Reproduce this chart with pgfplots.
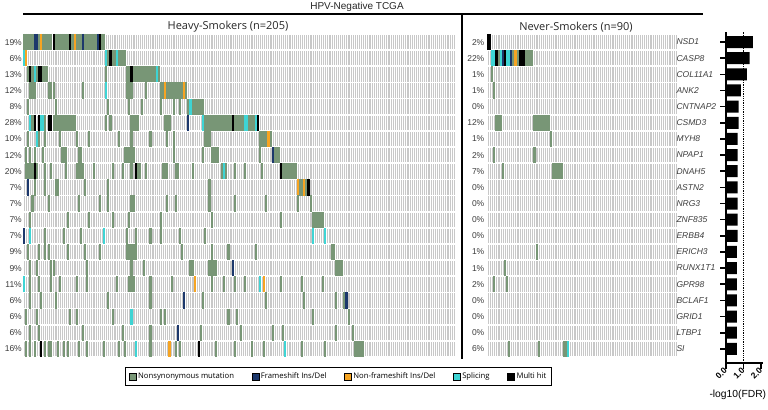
\documentclass[border=0pt]{standalone}
\usepackage{pgfplots}
\pgfplotsset{compat=1.18}
\usepackage{fontspec}
\setmainfont{Liberation Sans}
\newfontfamily\opensans{Open Sans}
\definecolor{cN}{RGB}{120,150,118}
\definecolor{cF}{RGB}{28,56,108}
\definecolor{cO}{RGB}{246,164,34}
\definecolor{cS}{RGB}{62,212,212}
\definecolor{cM}{RGB}{0,0,0}
\definecolor{cBG}{RGB}{200,200,200}
\definecolor{txt}{RGB}{60,60,60}
\pgfplotsset{
  mut/.style={only marks, mark=|, mark size=8.1bp, forget plot, mark options={line width=2.1bp, solid}},
  mN/.style={mut, color=cN}, mF/.style={mut, color=cF}, mO/.style={mut, color=cO},
  mS/.style={mut, color=cS}, mM/.style={mut, color=cM},
  onco/.style={scale only axis, height=323bp, ymin=0.5, ymax=20.5, y dir=reverse,
    axis line style={draw=none}, axis on top, axis background/.style={fill=cBG},
    xmajorgrids, major grid style={white, line width=0.25bp}, major tick length=0pt,
    xticklabels={}, ytick={1,...,20},
    extra y ticks={0.5,1.5,...,20.5}, extra y tick labels={},
    extra y tick style={grid=major, major grid style={white, line width=1.7bp}},
    yticklabel style={font=\fontsize{8.5bp}{10bp}\selectfont, text=txt, inner sep=1bp}},
}
\newcommand{\mrow}[3]{\addplot[#1] table[row sep=\\, y expr=#2]{x\\#3\\};}
\begin{document}
\begin{tikzpicture}
\useasboundingbox (0,0) rectangle (768bp,-410bp);
% Heavy smokers
\begin{axis}[onco, at={(23bp,-34bp)}, anchor=north west, width=432bp,
  xmin=-0.5, xmax=204.5, xtick={-0.5,0.5,...,204.5},
  yticklabels={19\%,6\%,13\%,12\%,8\%,28\%,10\%,12\%,20\%,7\%,7\%,7\%,7\%,9\%,9\%,11\%,6\%,6\%,6\%,16\%},
  legend columns=5, legend cell align=left,
  legend style={at={(axis description cs:0.7303,-0.0604)}, anchor=center, draw=black, line width=1.3bp,
    font=\opensans\fontsize{7.7bp}{9bp}\selectfont, inner sep=3bp,
    /tikz/every even column/.append style={column sep=15.5bp}}]
\mrow{mN}{1}{0\\1\\2\\3\\4\\7\\9\\10\\11\\12\\13\\15\\16\\17\\18\\19\\20\\21\\23\\25\\26\\27\\29\\30\\31\\32\\33\\34\\37\\38}
\mrow{mF}{1}{5\\6\\28\\35}
\mrow{mO}{1}{8\\24}
\mrow{mM}{1}{14\\22\\36}
\mrow{mN}{2}{40\\42\\43\\45\\46\\47\\48}
\mrow{mS}{2}{0\\39\\44}
\mrow{mO}{2}{1}
\mrow{mM}{2}{41}
\mrow{mN}{3}{2\\4\\6\\9\\10\\11\\39\\49\\50\\52\\53\\54\\55\\56\\57\\58\\59\\60\\61\\62\\64}
\mrow{mM}{3}{3\\7\\8\\51}
\mrow{mS}{3}{5\\63}
\mrow{mN}{4}{3\\4\\5\\12\\13\\14\\28\\49\\50\\51\\58\\65\\66\\68\\69\\70\\71\\72\\73\\74\\75\\77}
\mrow{mS}{4}{39}
\mrow{mO}{4}{67\\76}
\mrow{mN}{5}{2\\15\\40\\50\\56\\65\\71\\74\\78\\80\\81\\82\\83\\84\\85}
\mrow{mS}{5}{79}
\mrow{mN}{6}{4\\10\\14\\15\\16\\17\\18\\19\\20\\21\\22\\23\\24\\39\\41\\51\\52\\53\\54\\67\\68\\69\\86\\87\\88\\89\\90\\91\\92\\93\\94\\95\\96\\97\\98\\100\\101\\102\\103\\104\\107\\108\\109}
\mrow{mS}{6}{3\\8\\9\\85\\105\\106\\110}
\mrow{mM}{6}{5\\7\\12\\13\\99\\111}
\mrow{mF}{6}{78}
\mrow{mN}{7}{2\\7\\10\\17\\25\\31\\45\\51\\60\\68\\71\\86\\87\\88\\112\\113\\114\\115\\117}
\mrow{mS}{7}{6}
\mrow{mO}{7}{116}
\mrow{mN}{8}{1\\3\\5\\9\\18\\19\\20\\26\\27\\48\\49\\50\\51\\52\\71\\85\\89\\90\\91\\92\\112\\119\\120\\121}
\mrow{mF}{8}{118}
\mrow{mN}{9}{1\\2\\3\\4\\6\\10\\13\\20\\25\\26\\27\\28\\33\\42\\47\\51\\54\\55\\58\\66\\67\\68\\72\\73\\80\\94\\96\\100\\105\\113\\123\\124\\125\\126\\127\\128\\129}
\mrow{mM}{9}{5\\53\\122}
\mrow{mS}{9}{95}
\mrow{mN}{10}{5\\10\\15\\16\\29\\40\\88\\131\\132\\134}
\mrow{mF}{10}{2}
\mrow{mO}{10}{130\\133}
\mrow{mM}{10}{135}
\mrow{mN}{11}{4\\12\\26\\36\\40\\51\\52\\68\\72\\88\\100\\115\\130\\136}
\mrow{mN}{12}{3\\21\\31\\42\\50\\65\\89\\122\\137\\138\\139\\140\\141\\142}
\mrow{mN}{13}{10\\19\\27\\49\\53\\60\\65\\74\\86}
\mrow{mF}{13}{0}
\mrow{mS}{13}{3\\38\\137\\143}
\mrow{mN}{14}{2\\7\\10\\12\\21\\29\\36\\49\\50\\51\\52\\53\\75\\89\\97\\110\\146\\147}
\mrow{mN}{15}{3\\6\\13\\14\\30\\51\\57\\79\\80\\88\\89\\90\\91\\148\\149\\150\\151}
\mrow{mF}{15}{99}
\mrow{mN}{16}{3\\7\\13\\17\\25\\30\\44\\50\\51\\52\\60\\70\\89\\95\\100\\105\\122\\132\\142}
\mrow{mS}{16}{0\\112}
\mrow{mO}{16}{81\\114}
\mrow{mN}{17}{3\\8\\15\\40\\60\\85\\115\\133\\148\\152}
\mrow{mF}{17}{76\\153}
\mrow{mN}{18}{1\\6\\22\\25\\42\\65\\67\\97\\101\\137\\154}
\mrow{mS}{18}{51}
\mrow{mN}{19}{3\\7\\28\\47\\60\\84\\103\\118\\123\\148\\156}
\mrow{mF}{19}{73}
\mrow{mN}{20}{1\\3\\5\\10\\12\\13\\16\\19\\21\\26\\30\\38\\45\\48\\60\\72\\74\\91\\100\\108\\114\\132\\143\\157\\158\\159\\160\\161}
\mrow{mM}{20}{8\\83}
\mrow{mS}{20}{53\\124}
\mrow{mO}{20}{69}
\addlegendimage{legend image code/.code={\draw[fill=cN,draw=black,line width=0.4bp] (0bp,-3.5bp) rectangle (7bp,3.5bp);}}
\addlegendentry{Nonsynonymous mutation}
\addlegendimage{legend image code/.code={\draw[fill=cF,draw=black,line width=0.4bp] (0bp,-3.5bp) rectangle (7bp,3.5bp);}}
\addlegendentry{Frameshift Ins/Del}
\addlegendimage{legend image code/.code={\draw[fill=cO,draw=black,line width=0.4bp] (0bp,-3.5bp) rectangle (7bp,3.5bp);}}
\addlegendentry{Non-frameshift Ins/Del}
\addlegendimage{legend image code/.code={\draw[fill=cS,draw=black,line width=0.4bp] (0bp,-3.5bp) rectangle (7bp,3.5bp);}}
\addlegendentry{Splicing}
\addlegendimage{legend image code/.code={\draw[fill=cM,draw=black,line width=0.4bp] (0bp,-3.5bp) rectangle (7bp,3.5bp);}}
\addlegendentry{Multi hit}
\end{axis}
% Never smokers
\begin{axis}[onco, at={(487bp,-34bp)}, anchor=north west, width=190bp,
  xmin=-0.5, xmax=89.5, xtick={-0.5,0.5,...,89.5},
  yticklabels={2\%,22\%,1\%,1\%,0\%,12\%,1\%,2\%,7\%,0\%,0\%,0\%,0\%,1\%,1\%,2\%,0\%,0\%,0\%,6\%},
  yticklabel style={inner sep=2.5bp}]
\mrow{mM}{1}{0\\1}
\mrow{mS}{2}{2\\3\\6\\9\\10}
\mrow{mM}{2}{4\\8\\15\\16\\17}
\mrow{mF}{2}{7\\11}
\mrow{mO}{2}{13}
\mrow{mN}{2}{5\\12\\14\\18\\19\\20\\21}
\mrow{mN}{3}{2}
\mrow{mN}{4}{3}
\mrow{mN}{6}{4\\5\\6\\22\\23\\24\\25\\26\\27\\28\\29}
\mrow{mN}{7}{30}
\mrow{mN}{8}{3\\22}
\mrow{mN}{9}{7\\31\\32\\33\\34\\35}
\mrow{mN}{14}{23}
\mrow{mN}{15}{8}
\mrow{mN}{16}{3\\9}
\mrow{mN}{20}{10\\24\\36\\37}
\mrow{mS}{20}{38}
\end{axis}
% -log10(FDR) bars
\begin{axis}[at={(726bp,-32bp)}, anchor=north west, scale only axis, width=37bp, height=330.9bp,
  xmin=0, xmax=2.1, ymin=0.13, ymax=20.62,
  axis x line*=bottom, axis y line*=left, axis line style={line width=2bp, -},
  xtick={0,1,2}, xticklabels={0.0,1.0,2.0},
  ytick={1,...,20},
  yticklabels={SI,LTBP1,GRID1,BCLAF1,GPR98,RUNX1T1,ERICH3,ERBB4,ZNF835,NRG3,ASTN2,DNAH5,NPAP1,MYH8,CSMD3,CNTNAP2,ANK2,COL11A1,CASP8,NSD1},
  tick align=outside, major tick length=6bp, tick style={line width=1.6bp, black},
  yticklabel style={anchor=west, xshift=-47bp, font=\itshape\fontsize{8.5bp}{10bp}\selectfont, text=txt},
  xticklabel style={rotate=45, anchor=east, inner sep=0.5bp, font=\bfseries\fontsize{8.5bp}{10bp}\selectfont},
  xlabel={-log10(FDR)},
  xlabel style={at={(axis description cs:0.32,0)}, anchor=center, yshift=-32bp, font=\fontsize{10.3bp}{12bp}\selectfont},
  clip=false]
\addplot[xbar, bar width=12bp, fill=black, draw=none] coordinates {(0.62,1)(0.62,2)(0.62,3)(0.62,4)(0.62,5)(0.62,6)(0.62,7)(0.66,8)(0.66,9)(0.66,10)(0.66,11)(0.66,12)(0.66,13)(0.66,14)(0.72,15)(0.72,16)(0.85,17)(1.19,18)(1.34,19)(1.53,20)};
\addplot[black, densely dotted, line width=0.8bp] coordinates {(1,0.13)(1,20.62)};
\end{axis}
% titles and frame lines
\node[font=\fontsize{10bp}{12bp}\selectfont, text=black!85] at (357bp,-7bp) {HPV-Negative TCGA};
\draw[line width=2bp] (23bp,-14bp) -- (703bp,-14bp);
\draw[line width=2bp] (462bp,-14bp) -- (462bp,-359bp);
\node[font=\opensans\fontsize{11bp}{13bp}\selectfont, text=black!85] at (228bp,-27bp) {Heavy-Smokers (n=205)};
\node[font=\opensans\fontsize{11bp}{13bp}\selectfont, text=black!85] at (576bp,-27bp) {Never-Smokers (n=90)};
\end{tikzpicture}
\end{document}
